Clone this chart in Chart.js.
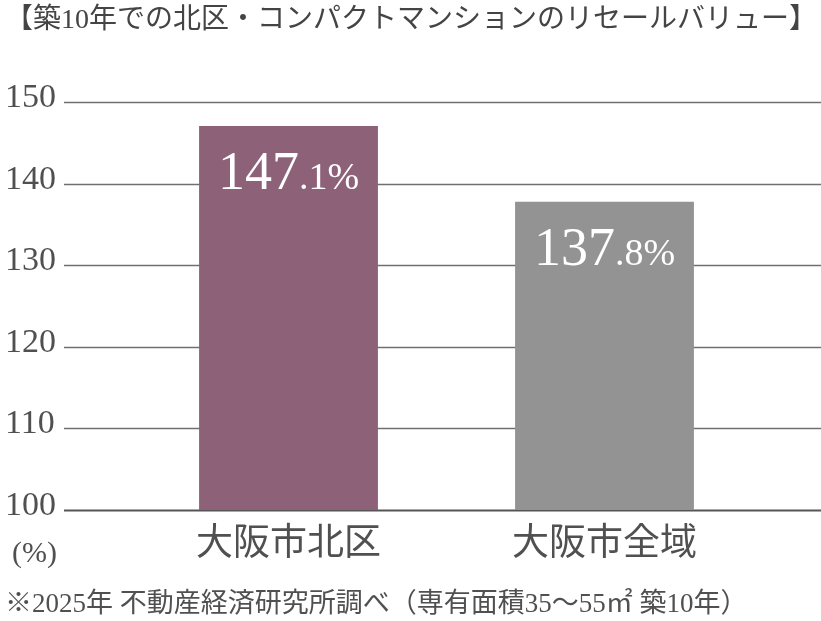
<!DOCTYPE html>
<html lang="ja">
<head>
<meta charset="utf-8">
<script src="https://cdn.jsdelivr.net/npm/chart.js@4.4.1/dist/chart.umd.min.js"></script>
<style>
html,body{margin:0;padding:0;background:#fff;}
#wrap{width:821px;height:621px;position:relative;}
</style>
</head>
<body>
<div id="wrap"><canvas id="c"></canvas></div>
<script>
const titleText = '【築10年での北区・コンパクトマンションのリセールバリュー】';
const footnoteText = '※2025年 不動産経済研究所調べ（専有面積35〜55㎡ 築10年）';
const unitText = '(%)';
const categories = ['大阪市北区', '大阪市全域'];
const values = [147.1, 137.8];
const barColors = ['#8d6279', '#939393'];
const yTicks = [100, 110, 120, 130, 140, 150];

const FONT = "'Liberation Serif', 'Noto Sans CJK JP', serif";
const TEXT = '#505050';

const gridPlugin = {
  id: 'fullGrid',
  beforeDatasetsDraw(chart) {
    const ctx = chart.ctx, ys = chart.scales.y;
    ctx.save();
    yTicks.forEach((v, i) => {
      const y = Math.round(ys.getPixelForValue(v)) + 0.5;
      ctx.strokeStyle = i === 0 ? '#555' : '#707070';
      ctx.lineWidth = i === 0 ? 2 : 1.6;
      ctx.beginPath();
      ctx.moveTo(64, y);
      ctx.lineTo(chart.width, y);
      ctx.stroke();
    });
    ctx.restore();
  }
};

const textPlugin = {
  id: 'extraText',
  afterDatasetsDraw(chart) {
    const ctx = chart.ctx;
    const meta = chart.getDatasetMeta(0);
    ctx.save();
    ctx.fillStyle = '#fff';
    ctx.textBaseline = 'alphabetic';
    meta.data.forEach((bar, i) => {
      const s = values[i].toFixed(1);
      const dot = s.indexOf('.');
      const big = s.slice(0, dot);
      const small = s.slice(dot) + '%';
      const bigFont = "54px " + FONT;
      const smallFont = "38px " + FONT;
      ctx.font = bigFont; const wb = ctx.measureText(big).width;
      ctx.font = smallFont; const ws = ctx.measureText(small).width;
      const x0 = bar.x - (wb + ws) / 2;
      const yb = bar.y + 63;
      ctx.font = bigFont; ctx.textAlign = 'left'; ctx.fillText(big, x0, yb);
      ctx.font = smallFont; ctx.fillText(small, x0 + wb, yb);
    });
    ctx.fillStyle = TEXT;
    ctx.font = "30px " + FONT;
    ctx.textAlign = 'left';
    ctx.textBaseline = 'middle';
    ctx.fillText(unitText, 12, 554);
    ctx.restore();
  }
};

new Chart(document.getElementById('c'), {
  type: 'bar',
  data: {
    labels: categories,
    datasets: [{
      data: values,
      backgroundColor: barColors,
      borderWidth: 0,
      categoryPercentage: 1,
      barPercentage: 0.566
    }]
  },
  options: {
    responsive: true,
    maintainAspectRatio: false,
    animation: false,
    layout: { padding: { left: 5, right: 0, top: 0, bottom: 0 } },
    plugins: {
      legend: { display: false },
      tooltip: { enabled: false },
      title: {
        display: true,
        text: titleText,
        align: 'start',
        color: '#444',
        font: { family: FONT, size: 28, weight: 'normal', lineHeight: 1.2 },
        padding: { top: 4, bottom: 64.7 }
      },
      subtitle: {
        display: true,
        position: 'bottom',
        text: footnoteText,
        align: 'start',
        color: TEXT,
        font: { family: FONT, size: 27, weight: 'normal', lineHeight: 1.2 },
        padding: { top: 7.7, bottom: 0 }
      }
    },
    scales: {
      x: {
        grid: { display: false, drawTicks: false },
        border: { display: false },
        ticks: { color: TEXT, font: { family: FONT, size: 37 }, padding: 13.3 }
      },
      y: {
        min: 100, max: 150,
        grid: { display: false, drawTicks: false },
        border: { display: false },
        afterFit(scale) { scale.width = 125.5; },
        ticks: {
          stepSize: 10,
          color: TEXT,
          crossAlign: 'far',
          labelOffset: -4,
          padding: 0,
          font: { family: FONT, size: 34 },
          callback: (v) => yTicks.includes(v) ? String(v) : ''
        }
      },
      yRight: {
        type: 'linear',
        position: 'right',
        min: 100, max: 150,
        grid: { display: false, drawTicks: false },
        border: { display: false },
        ticks: { display: false },
        afterFit(scale) { scale.width = 58.5; }
      }
    }
  },
  plugins: [gridPlugin, textPlugin]
});
</script>
</body>
</html>
